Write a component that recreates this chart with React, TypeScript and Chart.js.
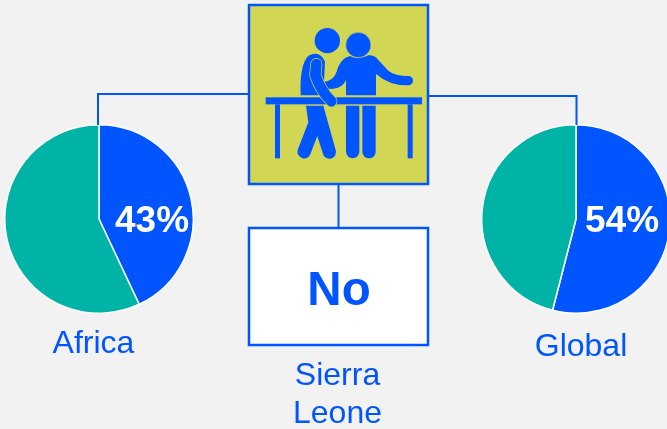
import React, { useEffect, useRef } from "react";
import { Chart, registerables } from "chart.js";

Chart.register(...registerables);

const segmentLabels = ["Yes", "No"];
const africaValues = [43, 57];
const globalValues = [54, 46];
const regionNames = ["Africa", "Global"];
const countryLines = ["Sierra", "Leone"];
const countryAnswer = "No";

const BLUE = "#0055ff";
const TEAL = "#00b3a7";
const OLIVE = "#d2d655";
const FONT = '"Liberation Sans", Arial, sans-serif';

function Pie({ values, left }: { values: number[]; left: number }) {
  const ref = useRef<HTMLCanvasElement>(null);
  useEffect(() => {
    const chart = new Chart(ref.current!, {
      type: "pie",
      data: {
        labels: segmentLabels,
        datasets: [
          {
            data: values,
            backgroundColor: [BLUE, TEAL],
            borderColor: "#ffffff",
            borderWidth: 1.5,
          },
        ],
      },
      options: {
        animation: false,
        responsive: false,
        layout: { padding: 0 },
        plugins: { legend: { display: false }, tooltip: { enabled: false } },
      },
    });
    return () => chart.destroy();
  }, [values]);
  return (
    <canvas
      ref={ref}
      width={190}
      height={190}
      style={{ position: "absolute", left, top: 124, width: 190, height: 190 }}
    />
  );
}

function Icon() {
  return (
    <g transform="translate(240 0) scale(0.33333)" fill={BLUE}>
      <circle cx={262} cy={122} r={38} />
      <circle cx={355} cy={135} r={38} stroke={OLIVE} strokeWidth={2} />
      <rect x={77} y={292} width={469} height={21} />
      <rect x={105} y={313} width={15} height={162} />
      <rect x={503} y={313} width={15} height={162} />
      <path d="M330 168 Q355 182 385 166 Q405 165 415 180 L445 212 Q465 228 505 228 A14 14 0 0 1 505 256 Q450 258 408 222 L408 286 L318 286 L318 240 Q310 262 280 266 L248 268 L248 245 Q280 245 290 215 Q300 175 330 168 Z" />
      <path d="M318 317 H358 V455 A20 20 0 0 1 318 455 Z" />
      <path d="M367 317 H407 V455 A20 20 0 0 1 367 455 Z" />
      <path d="M182 286 Q178 195 205 167 Q240 150 255 185 L250 286 Z" />
      <path d="M198 317 L250 317 L287 450 A20 20 0 0 1 250 465 L232 408 L212 460 A20 20 0 0 1 173 450 L205 367 Z" />
      <path d="M229 192 L226 225 Q240 270 274 304" fill="none" stroke={OLIVE} strokeWidth={36} strokeLinecap="round" />
      <path d="M229 192 L226 225 Q240 270 274 304" fill="none" stroke={BLUE} strokeWidth={32} strokeLinecap="round" />
    </g>
  );
}

export default function App() {
  return (
    <div
      style={{
        position: "fixed",
        left: 0,
        top: 0,
        width: 667,
        height: 429,
        overflow: "hidden",
        background: "#f2f2f2",
      }}
    >
      <Pie values={africaValues} left={4} />
      <Pie values={globalValues} left={481} />
      <svg
        width={667}
        height={429}
        viewBox="0 0 667 429"
        style={{ position: "absolute", left: 0, top: 0 }}
        fontFamily={FONT}
      >
        <path d="M249 94 H98 V125" fill="none" stroke={BLUE} strokeWidth={2} />
        <path d="M428 96 H576.5 V125" fill="none" stroke={BLUE} strokeWidth={2} />
        <path d="M338.5 184 V228" fill="none" stroke={BLUE} strokeWidth={2} />
        <rect x={249} y={5} width={179} height={179} fill={OLIVE} stroke={BLUE} strokeWidth={2.5} />
        <Icon />
        <rect x={249} y={228} width={179} height={117} fill="#ffffff" stroke={BLUE} strokeWidth={2.5} />
        <text x={339} y={305} textAnchor="middle" fontSize={47.5} fontWeight="bold" fill={BLUE}>
          {countryAnswer}
        </text>
        <text x={152} y={232} textAnchor="middle" fontSize={37} fontWeight="bold" fill="#ffffff">
          {africaValues[0]}%
        </text>
        <text x={622} y={232} textAnchor="middle" fontSize={37} fontWeight="bold" fill="#ffffff">
          {globalValues[0]}%
        </text>
        <text x={93.5} y={353} textAnchor="middle" fontSize={32} fill={BLUE}>
          {regionNames[0]}
        </text>
        <text x={581} y={356} textAnchor="middle" fontSize={32} fill={BLUE}>
          {regionNames[1]}
        </text>
        <text x={337.5} y={385} textAnchor="middle" fontSize={32} fill={BLUE}>
          {countryLines[0]}
        </text>
        <text x={337.5} y={423} textAnchor="middle" fontSize={32} fill={BLUE}>
          {countryLines[1]}
        </text>
      </svg>
    </div>
  );
}
